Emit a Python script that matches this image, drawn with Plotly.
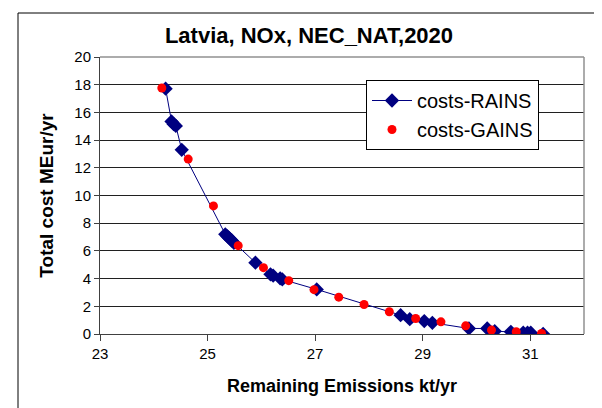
import plotly.graph_objects as go

# RAINS cost curve (navy diamonds + line)
rains_x = [24.22, 24.33, 24.37, 24.41, 24.52, 25.33, 25.37, 25.41, 25.45, 25.49,
           25.89, 26.17, 26.22, 26.35, 26.39, 27.03, 28.59, 28.76, 29.03, 29.18,
           29.86, 30.20, 30.34, 30.64, 30.87, 30.95, 31.01, 31.24]
rains_y = [17.71, 15.35, 15.15, 15.02, 13.30, 7.20, 7.05, 6.90, 6.75, 6.58,
           5.15, 4.31, 4.21, 4.02, 3.94, 3.22, 1.36, 1.07, 0.93, 0.81,
           0.40, 0.40, 0.20, 0.16, 0.09, 0.09, 0.09, 0.00]

# GAINS cost points (red dots)
gains_x = [24.15, 24.64, 25.11, 25.57, 26.04, 26.51, 26.98, 27.44, 27.91, 28.38,
           28.87, 29.34, 29.80, 30.28, 30.74, 31.21]
gains_y = [17.76, 12.63, 9.25, 6.38, 4.79, 3.85, 3.20, 2.66, 2.13, 1.61,
           1.12, 0.88, 0.59, 0.28, 0.16, 0.04]

x_ticks = [23, 25, 27, 29, 31]
y_ticks = [0, 2, 4, 6, 8, 10, 12, 14, 16, 18, 20]

FONT = "Liberation Sans, Arial, sans-serif"

fig = go.Figure()
fig.add_trace(go.Scatter(
    x=rains_x, y=rains_y, mode="lines+markers", name="costs-RAINS",
    line=dict(color="#000080", width=1),
    marker=dict(symbol="diamond", size=11, color="#000080"),
))
fig.add_trace(go.Scatter(
    x=gains_x, y=gains_y, mode="markers", name="costs-GAINS",
    marker=dict(symbol="circle", size=9, color="#FF0000"),
))

L, R, T, B = 92, 26, 49, 82
W, H = 602, 408
pw = W - L - R
ph = H - T - B

def px_to_paper_x(px):
    return (px - L) / pw

def py_to_paper_y(py):
    return (H - B - py) / ph

fig.update_layout(
    width=W, height=H,
    margin=dict(l=L, r=R, t=T, b=B),
    paper_bgcolor="white", plot_bgcolor="white",
    font=dict(family=FONT, color="black", size=14),
    title=dict(text="<b>Latvia, NOx, NEC_NAT,2020</b>", x=0.5, xanchor="center",
               y=1 - 27 / H, yanchor="middle", font=dict(size=22, family=FONT)),
    showlegend=True,
    legend=dict(x=px_to_paper_x(358), y=py_to_paper_y(72), xanchor="left", yanchor="top",
                bgcolor="white", bordercolor="black", borderwidth=1,
                font=dict(size=20, family=FONT), itemwidth=40,
                tracegroupgap=0),
    xaxis=dict(range=[23, 32], tickvals=x_ticks, ticktext=[str(v) for v in x_ticks],
               showgrid=False, zeroline=False, showline=True, linecolor="#404040",
               linewidth=1, ticks="outside", ticklen=6, tickcolor="#404040",
               tickfont=dict(size=15, family=FONT), mirror=False,
               title=dict(text="<b>Remaining Emissions kt/yr</b>",
                          font=dict(size=18, family=FONT), standoff=18)),
    yaxis=dict(range=[0, 20], tickvals=y_ticks, ticktext=[str(v) for v in y_ticks],
               showgrid=True, gridcolor="#202020", gridwidth=1, zeroline=False,
               showline=True, linecolor="#404040", linewidth=1, ticks="outside",
               ticklen=5, tickcolor="#404040", tickfont=dict(size=15, family=FONT),
               title=dict(text="<b>Total cost MEur/yr</b>",
                          font=dict(size=19, family=FONT), standoff=15)),
    shapes=[
        # gray plot-area border (top and right)
        dict(type="line", xref="paper", yref="paper", x0=0, x1=1, y0=1, y1=1,
             line=dict(color="#909090", width=1.5)),
        dict(type="line", xref="paper", yref="paper", x0=1, x1=1, y0=0, y1=1,
             line=dict(color="#909090", width=1.5)),
        # outer chart frame
        dict(type="rect", xref="paper", yref="paper",
             x0=px_to_paper_x(10), x1=px_to_paper_x(597),
             y0=py_to_paper_y(420), y1=py_to_paper_y(5),
             line=dict(color="black", width=1), fillcolor="rgba(0,0,0,0)", layer="below"),
    ],
)

fig.write_html("out.html")
